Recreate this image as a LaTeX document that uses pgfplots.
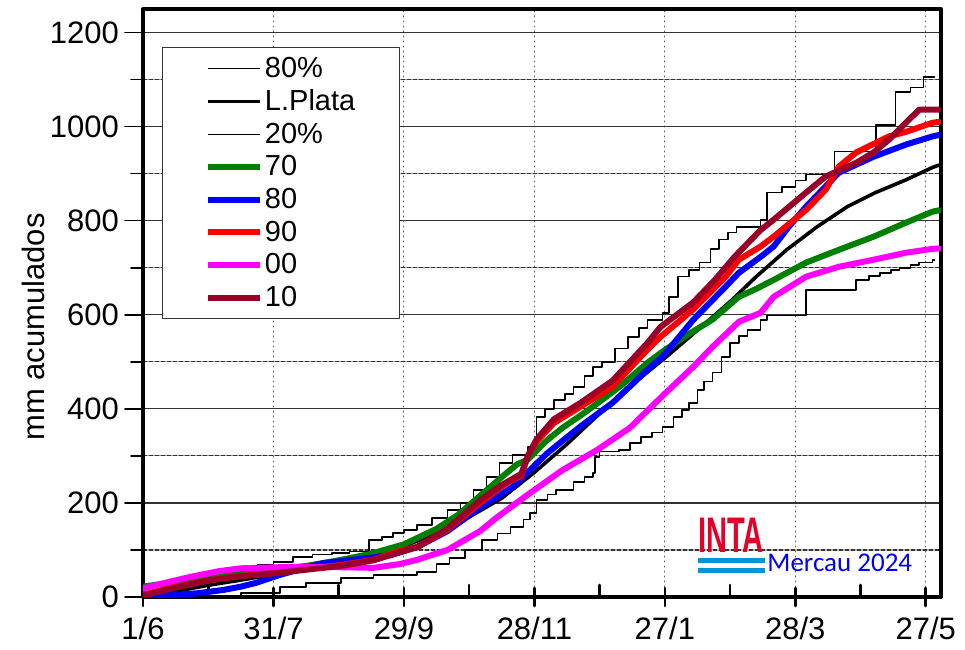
\documentclass[border=0pt]{standalone}
\usepackage{pgfplots}
\pgfplotsset{compat=1.18}
\usepackage{fontspec}
\setmainfont{Liberation Sans}
\newfontfamily\carlito{Carlito}
\definecolor{cgreen}{RGB}{0,128,0}
\definecolor{cblue}{RGB}{0,0,255}
\definecolor{cred}{RGB}{255,0,0}
\definecolor{cmag}{RGB}{255,0,255}
\definecolor{cdred}{RGB}{155,0,40}
\definecolor{intared}{RGB}{230,0,40}
\definecolor{intablue}{RGB}{0,150,214}
\definecolor{gridgray}{RGB}{90,90,90}
\begin{document}
\begin{tikzpicture}
\begin{axis}[
  at={(0,0)}, anchor=south west,
  scale only axis, width=399pt, height=294pt,
  xmin=0, xmax=367, ymin=0, ymax=1250,
  xtick={0,60,...,360},
  xticklabels={1/6,31/7,29/9,28/11,27/1,28/3,27/5},
  minor xtick={30,90,...,330},
  ytick={0,200,...,1200},
  minor ytick={100,300,...,1100},
  xtick pos=bottom, ytick pos=left,
  tick align=center,
  major tick length=9pt, minor tick length=6pt,
  tick style={black, line width=1.3pt},
  major y tick style={xshift=-4.5pt, line width=0.8pt},
  minor y tick style={xshift=-3pt, line width=0.8pt},
  minor x tick style={yshift=3pt},
  axis line style={line width=2pt},
  xmajorgrids=true, ymajorgrids=true, yminorgrids=true,
  major x grid style={gridgray, line width=0.5pt, dotted},
  major y grid style={black!80, line width=0.6pt},
  minor y grid style={black!80, line width=0.6pt, dashed, dash pattern=on 2pt off 1pt},
  /pgf/number format/assume math mode=true,
  /pgf/number format/1000 sep={},
  tick label style={font=\fontsize{15.5}{18}\selectfont},
  yticklabel style={xshift=-4pt},
  xticklabel style={yshift=-2pt},
  ylabel={mm acumulados},
  ylabel style={font=\fontsize{15.5}{18}\selectfont, at={(axis description cs:-0.1378,0.459)}, anchor=center},
  legend style={at={(rel axis cs:0.0238,0.935)}, anchor=north west,
    draw=black!80, line width=0.6pt, inner xsep=21pt, inner ysep=2.5pt,
    font=\fontsize{14.5}{16}\selectfont, row sep=0.7pt,
    nodes={inner xsep=1.2pt}},
  legend cell align=left,
  legend image code/.code={\draw[#1] (0pt,0pt) -- (26pt,0pt);},
  line join=round, line cap=round,
]
% 80%
\addplot[const plot, black, line width=0.8pt] coordinates {
(0,8)(10,20)(17,32)(27,42)(37,53)(46,64)(53,69)(60,74)(69,85)(78,90)(87,94)(95,97)(104,121)(110,128)(115,136)(120,142)(126,153)(133,168)(140,185)(146,200)(152,228)(158,255)(164,285)(170,302)(177,319)(181,383)(185,400)(189,419)(194,432)(198,447)(203,470)(207,489)(211,500)(217,528)(223,553)(228,572)(232,589)(239,604)(242,638)(246,681)(251,695)(256,711)(261,740)(265,760)(269,775)(273,787)(284,802)(287,860)(294,872)(300,885)(305,898)(318,947)(337,1004)(346,1074)(353,1083)(359,1106)(364,1106)};
\addlegendentry{80\%}
% L.Plata
\addplot[black, line width=1.8pt] coordinates {
(0,0)(15,12)(30,25)(45,36)(60,48)(75,60)(90,73)(105,88)(120,108)(135,135)(150,170)(165,210)(180,265)(195,325)(210,390)(225,452)(240,508)(259,583)(271,632)(282,681)(296,738)(310,787)(324,830)(337,860)(351,887)(363,913)(366,918)};
\addlegendentry{L.Plata}
% 20%
\addplot[const plot, black, line width=0.8pt] coordinates {
(0,0)(45,9)(63,21)(75,30)(91,40)(106,47)(126,53)(135,70)(141,83)(148,100)(156,121)(163,135)(169,149)(175,165)(178,179)(181,206)(186,218)(190,228)(198,245)(203,255)(207,264)(208,298)(210,309)(219,313)(224,327)(229,340)(234,350)(239,362)(244,383)(248,398)(251,413)(255,440)(258,458)(262,477)(266,510)(270,540)(274,555)(278,568)(284,589)(287,598)(305,653)(328,674)(334,682)(339,689)(344,695)(348,700)(353,706)(357,711)(363,717)(364,717)};
\addlegendentry{20\%}
% 70
\addplot[cgreen, line width=3pt] coordinates {
(0,22)(15,32)(30,42)(45,52)(60,58)(75,66)(90,78)(105,92)(120,112)(135,145)(145,175)(155,215)(165,255)(172,282)(177,292)(185,330)(193,360)(201,385)(210,415)(220,450)(232,498)(240,525)(250,556)(262,590)(274,638)(282,655)(290,674)(305,711)(320,738)(336,766)(351,796)(363,819)(366,822)};
\addlegendentry{70}
% 80
\addplot[cblue, line width=3pt] coordinates {
(0,0)(14,4)(25,8)(37,15)(45,22)(52,30)(63,47)(73,60)(83,72)(98,80)(114,89)(126,106)(140,140)(155,190)(170,234)(178,270)(186,306)(201,362)(216,413)(232,483)(239,511)(253,589)(268,660)(274,689)(284,723)(290,745)(297,787)(305,830)(320,902)(336,936)(351,962)(363,979)(366,982)};
\addlegendentry{80}
% 90
\addplot[cred, line width=3pt] coordinates {
(0,5)(15,22)(31,36)(45,45)(60,51)(75,60)(91,68)(106,79)(118,98)(126,106)(140,143)(155,200)(165,235)(170,249)(174,258)(177,300)(181,330)(189,370)(201,404)(216,447)(232,526)(238,553)(253,611)(268,681)(274,717)(284,745)(290,766)(305,823)(314,866)(320,915)(328,945)(343,979)(351,989)(363,1008)(366,1010)};
\addlegendentry{90}
% 00
\addplot[cmag, line width=3pt] coordinates {
(0,18)(10,30)(22,43)(35,55)(45,61)(68,64)(83,64)(106,62)(118,70)(126,79)(140,100)(155,140)(163,170)(178,221)(193,270)(209,313)(224,360)(239,428)(253,489)(262,532)(274,585)(284,604)(290,638)(305,681)(320,702)(336,717)(351,732)(363,740)(366,741)};
\addlegendentry{00}
% 10
\addplot[cdred, line width=3pt] coordinates {
(0,3)(15,20)(31,36)(45,44)(60,50)(75,58)(91,66)(106,78)(118,95)(126,106)(140,145)(155,205)(165,238)(174,262)(177,300)(181,335)(189,378)(201,412)(216,460)(232,540)(238,574)(253,626)(263,674)(272,723)(284,780)(290,802)(305,860)(314,894)(328,923)(336,945)(343,972)(351,1009)(357,1036)(366,1036)};
\addlegendentry{10}
% INTA logo and credit
\node[anchor=south west, inner sep=0pt, text=intared] at (axis cs:255.2,93.6)
  {\scalebox{0.58}[1]{\fontsize{25}{25}\selectfont\bfseries INTA}};
\fill[intablue] (axis cs:255.2,72) rectangle (axis cs:286,83);
\fill[intablue] (axis cs:255.2,51) rectangle (axis cs:286,62);
\node[anchor=base west, inner sep=0pt, text=cblue] at (axis cs:287,55)
  {\carlito\fontsize{13.5}{15}\selectfont Mercau 2024};
\end{axis}
\pgfresetboundingbox
\path (-71.5pt,-26pt) rectangle (411pt,298.5pt);
\end{tikzpicture}
\end{document}
